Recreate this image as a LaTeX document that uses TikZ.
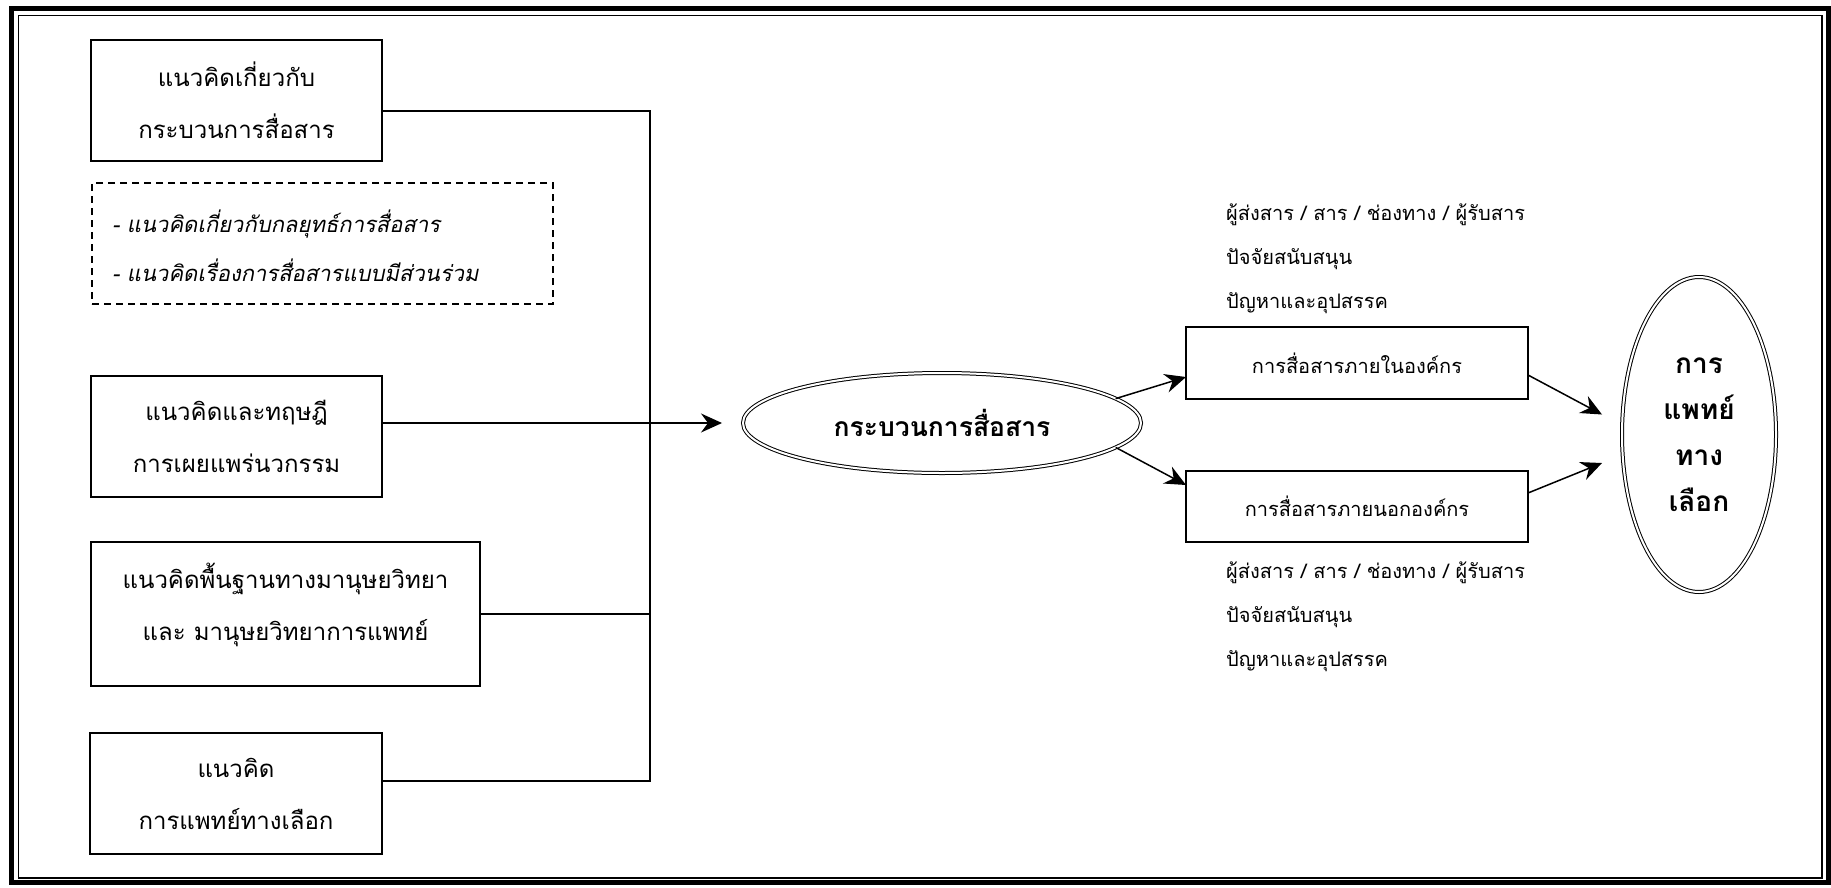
\documentclass[tikz,border=0pt]{standalone}
\usepackage{fontspec}
\setmainfont[Script=Thai]{Loma}
\newfontfamily\thaiit[Script=Thai,FakeSlant=0.2]{Loma}
\usetikzlibrary{arrows.meta,shapes.geometric}
\tikzset{
  thickbox/.style={draw, line width=2.8pt, inner sep=0pt, outer sep=0pt, align=center, font=\fontsize{24}{52}\selectfont},
  thinbox/.style={draw, line width=1.8pt, inner sep=0pt, outer sep=0pt, align=center, font=\fontsize{20}{40}\selectfont},
  dashbox/.style={draw, line width=1.8pt, dash pattern=on 7pt off 5pt, inner sep=0pt, outer sep=0pt},
  oval/.style={ellipse, draw, double, line width=1pt, double distance=2pt, inner sep=0pt, outer sep=0pt, align=center},
  conn/.style={line width=1.5pt},
  arr/.style={line width=1.5pt, -{Stealth[length=21pt,width=19pt,inset=7pt]}},
  lbl/.style={align=left, anchor=west, inner sep=0pt, font=\fontsize{20}{44}\selectfont},
  boxtext/.style={align=center, inner sep=0pt, font=\fontsize{24}{52}\selectfont},
  frameouter/.style={line width=5pt},
  frameinner/.style={line width=1.8pt}
}
\begin{document}
\begin{tikzpicture}[x=1pt,y=-1pt]
\useasboundingbox (0,0) rectangle (1831,887);
\draw[frameouter] (11.5,8.5) rectangle (1828,882);
\draw[frameinner] (18.5,15.5) rectangle (1822,878);

\node[thickbox, minimum width=291pt, minimum height=121pt] (b1) at (236.5,100.5) {แนวคิดเกี่ยวกับ\\กระบวนการสื่อสาร};
\node[dashbox, minimum width=461pt, minimum height=121pt] (b2) at (322.5,243.5) {};
\node[lbl, font=\fontsize{22}{49}\thaiit] (b2t) at (112,246) {- แนวคิดเกี่ยวกับกลยุทธ์การสื่อสาร\\- แนวคิดเรื่องการสื่อสารแบบมีส่วนร่วม};
\node[thickbox, minimum width=291pt, minimum height=121pt] (b3) at (236.5,436.5) {แนวคิดและทฤษฎี\\การเผยแพร่นวกรรม};
\node[thickbox, minimum width=389pt, minimum height=144pt] (b4) at (285.5,614) {};
\node[boxtext] (b4t) at (285.5,605) {แนวคิดพื้นฐานทางมานุษยวิทยา\\และ มานุษยวิทยาการแพทย์};
\node[thickbox, minimum width=292pt, minimum height=121pt] (b5) at (236,793.5) {แนวคิด\\การแพทย์ทางเลือก};

\node[oval, minimum width=398pt, minimum height=100pt, font=\fontsize{26.5}{30}\selectfont\bfseries] (e1) at (942,423) {กระบวนการสื่อสาร};

\node[thinbox, minimum width=342pt, minimum height=72pt] (ba) at (1357,363) {การสื่อสารภายในองค์กร};
\node[thinbox, minimum width=342pt, minimum height=71pt] (bb) at (1357,506.5) {การสื่อสารภายนอกองค์กร};

\node[lbl] (la) at (1226,259) {ผู้ส่งสาร / สาร / ช่องทาง / ผู้รับสาร\\ปัจจัยสนับสนุน\\ปัญหาและอุปสรรค};
\node[lbl] (lb) at (1226,617) {ผู้ส่งสาร / สาร / ช่องทาง / ผู้รับสาร\\ปัจจัยสนับสนุน\\ปัญหาและอุปสรรค};

\node[oval, minimum width=154pt, minimum height=315pt, font=\fontsize{28}{46}\selectfont\bfseries] (e2) at (1699,434.5) {การ\\แพทย์\\ทาง\\เลือก};

\coordinate (vtop) at (650,111);
\coordinate (vbot) at (650,781);
\draw[conn] (b1.east |- vtop) -- (vtop) -- (vbot) -- (b5.east |- vbot);
\draw[conn] (b4.east) -- (b4.east -| vtop);
\draw[arr] (b3.east |- e1.west) -- ([xshift=-21pt]e1.west);

\draw[arr] (e1.8) -- ([shift={(0,14)}]ba.west);
\draw[arr] (e1.-8) -- ([shift={(0,-21.5)}]bb.west);
\draw[arr] ([shift={(0,12)}]ba.east) -- ([shift={(-20,-20)}]e2.west);
\draw[arr] ([shift={(0,-13.5)}]bb.east) -- ([shift={(-20,28.5)}]e2.west);
\end{tikzpicture}
\end{document}
